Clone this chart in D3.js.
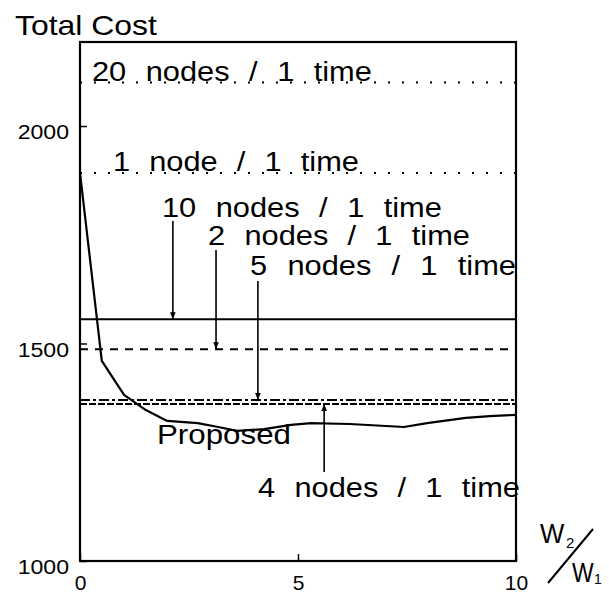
<!DOCTYPE html>
<html>
<head>
<meta charset="utf-8">
<script src="https://cdn.jsdelivr.net/npm/d3@7"></script>
<style>
  body { margin: 0; background: #fff; }
  svg { display: block; }
  text { font-family: "Liberation Sans", Arial, Helvetica, sans-serif; fill: #000; }
</style>
</head>
<body>
<script>
// Fixed-allocation schemes and their total cost (flat reference lines)
const schemes = ["20 nodes / 1 time", "1 node / 1 time", "10 nodes / 1 time",
                 "2 nodes / 1 time", "5 nodes / 1 time", "4 nodes / 1 time"];
const schemeCost = [2100, 1892, 1556, 1487, 1370, 1361];

// Proposed method: total cost against the weight ratio W2/W1
const ratio = [0, 0.5, 1.01, 1.24, 1.51, 2.0, 2.7, 3.17, 3.6, 4.22, 4.84,
               5.3, 6.19, 7.43, 7.96, 8.85, 9.4, 10];
const proposedCost = [1892, 1460, 1382, 1366, 1347, 1322, 1317, 1308, 1299, 1303, 1313,
                      1317, 1315, 1308, 1317, 1329, 1333, 1336];

const yTicks = [1000, 1500, 2000];
const xTicks = [0, 5, 10];

const W = 609, H = 598;
const plotL = 80, plotR = 516, plotT = 42, plotB = 561;

const svg = d3.select("body").append("svg").attr("width", W).attr("height", H);

const x = d3.scaleLinear().domain([0, 10]).range([plotL, plotR]);
const y = d3.scaleLinear().domain([1000, 2000]).range([plotB, 126]);

// arrowhead
svg.append("defs").append("marker")
  .attr("id", "head").attr("viewBox", "0 0 10 10")
  .attr("refX", 10).attr("refY", 5)
  .attr("markerWidth", 7).attr("markerHeight", 8)
  .attr("markerUnits", "userSpaceOnUse")
  .attr("orient", "auto")
  .append("path").attr("d", "M0,1 L10,5 L0,9 Z").attr("fill", "#000");

// line styles for the fixed schemes
const dash = ["2,12", "2,12", null, "8,7", "10,3,3,3", "7,2"];

svg.append("g").selectAll("line").data(schemeCost).join("line")
  .attr("x1", x(0)).attr("x2", x(10))
  .attr("y1", d => y(d)).attr("y2", d => y(d))
  .attr("stroke", "#000").attr("stroke-width", 2)
  .attr("stroke-dasharray", (d, i) => dash[i]);

// proposed curve
const pts = ratio.map((r, i) => [r, proposedCost[i]]);
svg.append("path").datum(pts)
  .attr("d", d3.line().x(d => x(d[0])).y(d => y(d[1])))
  .attr("fill", "none").attr("stroke", "#000").attr("stroke-width", 2.2)
  .attr("stroke-linejoin", "round");

// frame
svg.append("rect")
  .attr("x", plotL).attr("y", plotT)
  .attr("width", plotR - plotL).attr("height", plotB - plotT)
  .attr("fill", "none").attr("stroke", "#000").attr("stroke-width", 2.2);

// axes with inward ticks
const yAxis = svg.append("g").attr("transform", `translate(${plotL},0)`)
  .call(d3.axisLeft(y).tickValues(yTicks).tickSize(-7).tickPadding(10).tickFormat(d3.format("d")));
const xAxis = svg.append("g").attr("transform", `translate(0,${plotB})`)
  .call(d3.axisBottom(x).tickValues(xTicks).tickSize(-7).tickPadding(14).tickFormat(d3.format("d")));
[yAxis, xAxis].forEach(a => {
  a.select(".domain").remove();
  a.selectAll(".tick line").attr("stroke", "#000").attr("stroke-width", 1.5);
  a.selectAll("text").attr("font-size", 21).attr("font-family", null).attr("fill", "#000");
});
yAxis.selectAll("text").attr("transform", "translate(0,6) scale(1.1,1)");

// wide sans labels
function label(str, lx, ly, size, target, glyphsOnly) {
  const t = svg.append("text").attr("font-size", size).text(str);
  const w0 = t.node().getComputedTextLength();
  const n = (str.match(/ /g) || []).length;
  let sx = 1.1, ws = 0;
  if (glyphsOnly || n === 0) sx = target / w0;
  else ws = (target / sx - w0) / n;
  t.attr("word-spacing", ws).attr("transform", `translate(${lx},${ly}) scale(${sx},1)`);
}

label("Total Cost", 15, 35, 28, 142, true);
label(schemes[0], 92, 81, 28, 280);
label(schemes[1], 113, 171, 28, 246);
label(schemes[2], 162, 217, 28, 280);
label(schemes[3], 208, 245, 28, 262);
label(schemes[4], 250, 275, 28, 266);
label(schemes[5], 258, 497, 28, 262);
label("Proposed", 157, 444, 28, 134, true);

// pointers from labels to their lines
const arrows = [
  { i: 2, at: 2.13, from: 221 },
  { i: 3, at: 3.12, from: 250 },
  { i: 4, at: 4.08, from: 281 },
  { i: 5, at: 5.6, from: 472 }
];
svg.append("g").selectAll("line").data(arrows).join("line")
  .attr("x1", d => x(d.at)).attr("x2", d => x(d.at))
  .attr("y1", d => d.from).attr("y2", d => y(schemeCost[d.i]))
  .attr("stroke", "#000").attr("stroke-width", 1.6)
  .attr("marker-end", "url(#head)");

// W2 / W1 axis label
const wl = svg.append("g");
wl.append("text").attr("transform", "translate(540,543) scale(0.92,1)").attr("font-size", 28).text("W");
wl.append("text").attr("x", 566).attr("y", 548).attr("font-size", 15).text("2");
wl.append("line").attr("x1", 548).attr("y1", 583).attr("x2", 593).attr("y2", 529)
  .attr("stroke", "#000").attr("stroke-width", 2);
wl.append("text").attr("transform", "translate(572,582) scale(0.82,1)").attr("font-size", 28).text("W");
wl.append("text").attr("x", 594).attr("y", 584).attr("font-size", 14).text("1");
</script>
</body>
</html>
